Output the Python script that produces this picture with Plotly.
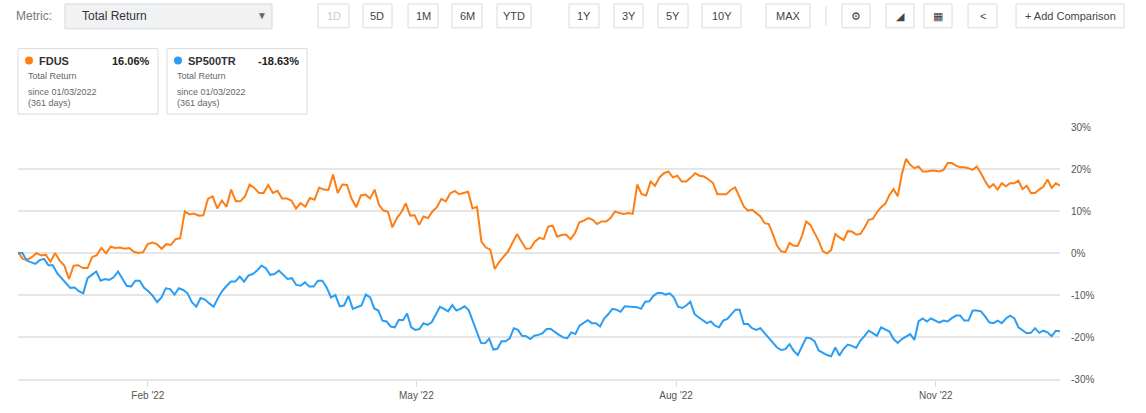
import plotly.graph_objects as go
import pandas as pd

fdus_a = [0.2,-1.4,-1.6,-1.0,0,-0.6,-0.4,-2.1,0,-1.8,-3.0,-6.2,-3.0,-2.9,-3.6,-3.6,-1.0,-0.5,1.2,-0.1,1.5,1.2,1.3,1.0,1.2,0.3,0,0.2,2.1,2.5,2.1,1.0,2.1,1.9,3.3,3.5,9.9,9.2,9.4,8.9,9.0,12.9,13.5,10.6,12.5,11.0,15.1,12.3,12.3,13.5,16.3,15.5,14.3,14.3,16.2,14.3,14.8,13.0,13.0,12.5,10.6,11.9,11.0,13.1,12.7,15.6,15.1,15.0,18.7,14.3,16.3,16.2,12.9,10.9,13.7,13.9]
fdus_b = [13.0,15.1,11.4,10.1,9.8,6.1,8.3,9.7,11.8,8.9,9.0,6.7,8.7,8.3,9.9,10.9,12.9,12.3,14.2,14.8,14.0,14.3,14.6,10.6,11.0,2.7,1.3,0.8,-3.8,-2.1,-0.8,0.4,2.5,4.5,2.7,1.0,1.1,2.7,3.6,3.3,6.3,6.5,3.9,4.3,4.4,3.3,4.7,7.3,7.7,8.3,7.9,6.9,7.5,7.5,8.3,9.9,9.5,9.3,9.5,9.3,16.3,14.0,13.7,17.0,16.0,18.0,19.0,19.4,18.0,18.4,17.0,17.0,17.9,19.0,18.4,18.2,17.5,16.7,14.0,14.0,14.0,15.0,15.6]
fdus_c = [13.3,11.1,10.1,10.3,9.5,8.7,7.1,6.9,4.5,1.7,0.4,0.2,2.4,1.7,1.7,4.1,7.5,6.7,4.8,2.9,0.4,-0.1,0.7,4.5,3.7,3.1,5.2,5.1,4.4,4.5,6.0,7.9,8.1,9.7,10.9,11.7,13.8,15.2,13.5,18.8,22.4,21.0,20.2,20.6,19.4,19.4,19.6,19.6,19.4,19.8,21.4,21.4,20.8,20.4,20.4,20.2,19.8,20.6,19.0,17.1,15.6,16.4,15.1,16.6,15.9,16.6,16.6,17.2,15.2,16.0,14.3,14.3,15.1,15.8,17.5,15.5,16.6,16.06]
sp_a = [0,0,-1.8,-2.2,-2.6,-1.7,-1.4,-2.9,-2.9,-4.8,-6.0,-7.0,-8.3,-8.2,-9.1,-9.6,-6.0,-5.2,-4.4,-6.6,-6.2,-6.4,-5.8,-4.4,-6.0,-7.8,-8.0,-6.6,-6.6,-8.3,-9.1,-10.2,-11.7,-10.6,-8.4,-8.6,-9.9,-8.4,-8.8,-9.6,-11.7,-12.8,-10.7,-11.1,-12.0,-12.8,-10.7,-9.0,-7.8,-6.8,-6.8,-5.6,-6.8,-5.4,-5.0,-4.2,-3.0,-3.6,-5.2,-5.0,-4.2,-5.2,-6.2,-6.0,-7.6,-7.8,-7.0,-8.0,-8.0,-6.6,-6.6,-8.2,-10.6,-10.0,-12.7,-12.5,-10.2,-13.3,-12.9,-12.5,-9.9]
sp_b = [-10.6,-13.2,-13.7,-16.1,-16.3,-17.5,-17.7,-15.9,-16.0,-14.4,-17.7,-18.3,-18.1,-16.7,-17.1,-16.5,-14.7,-12.8,-13.3,-13.9,-12.4,-13.7,-13.3,-12.7,-13.6,-16.3,-18.9,-21.4,-21.5,-20.4,-23.0,-22.8,-21.0,-21.0,-20.3,-17.9,-18.3,-19.7,-19.8,-20.5,-19.7,-19.5,-19.1,-18.1,-18.1,-18.9,-19.5,-20.1,-20.3,-18.9,-19.3,-17.3,-16.7,-16.0,-16.7,-16.7,-17.5,-15.6,-14.6,-13.3,-13.5,-14.0,-12.7,-12.8,-12.8,-12.9,-13.3,-11.6,-11.5,-10.2,-9.5,-9.5,-9.9,-9.6,-10.6,-12.8,-13.1,-12.5,-11.6,-14.5,-15.3,-16.1,-16.7,-16.3,-17.3,-17.7,-16.1,-15.7,-14.5,-13.5]
sp_c = [-13.5,-16.9,-16.9,-17.9,-18.3,-17.9,-19.1,-20.2,-21.3,-22.5,-23.1,-22.9,-21.7,-23.3,-24.3,-22.4,-20.2,-20.3,-21.0,-23.2,-23.8,-24.3,-24.6,-22.5,-24.4,-22.8,-21.8,-22.1,-22.6,-20.9,-19.8,-18.5,-19.1,-19.7,-17.7,-18.3,-18.7,-20.5,-21.4,-20.5,-19.8,-19.3,-20.7,-16.3,-15.6,-16.3,-15.6,-16.1,-16.6,-16.1,-16.3,-15.5,-14.9,-14.9,-16.1,-16.1,-13.7,-13.7,-13.9,-15.1,-16.5,-16.7,-16.1,-16.7,-15.6,-14.9,-15.5,-17.7,-18.5,-19.1,-19.0,-17.9,-19.0,-18.5,-18.9,-19.8,-18.5,-18.63]

seg_dates = ["2022-01-03", "2022-05-05", "2022-09-10", "2022-12-30"]
tick_vals = ["2022-02-17", "2022-05-21", "2022-08-19", "2022-11-17"]
tick_text = ["Feb '22", "May '22", "Aug '22", "Nov '22"]

def dates_for(parts):
    out = []
    for i, p in enumerate(parts):
        d = pd.date_range(seg_dates[i], seg_dates[i + 1], periods=len(p) + (1 if i < 2 else 0))
        out += list(d[:len(p)])
    return out

fdus = fdus_a + fdus_b + fdus_c
sp = sp_a + sp_b + sp_c
fx = dates_for([fdus_a, fdus_b, fdus_c])
sx = dates_for([sp_a, sp_b, sp_c])

W, H = 1146, 413
L, R, T, B = 18, 1060, 127, 381
def px(x): return (x - L) / (R - L)
def py(y): return (B - y) / (B - T)

fig = go.Figure()
fig.add_trace(go.Scatter(x=fx, y=fdus, mode="lines", line=dict(color="#fd7e14", width=2), name="FDUS"))
fig.add_trace(go.Scatter(x=sx, y=sp, mode="lines", line=dict(color="#2a9df4", width=2), name="SP500TR"))

shapes, ann = [], []
def box(x0, y0, x1, y1, fill="white", line="#d9d9d9"):
    shapes.append(dict(type="rect", xref="paper", yref="paper", x0=px(x0), x1=px(x1), y0=py(y1), y1=py(y0),
                       fillcolor=fill, line=dict(color=line, width=1), layer="above"))
def text(x, y, s, size=11, color="#333", anchor="left", bold=False):
    ann.append(dict(xref="paper", yref="paper", x=px(x), y=py(y), text=("<b>%s</b>" % s) if bold else s,
                    showarrow=False, xanchor=anchor, yanchor="middle", font=dict(size=size, color=color, family="Arial")))

text(14, 15, "Metric:", 12, "#777")
box(65, 3, 272, 28, fill="#f1f2f4", line="#d6d8db")
text(80, 15, "Total Return", 12, "#333")
text(262, 15, "▼", 10, "#666", "center")
btns = [(318, 349, "1D"), (363, 392, "5D"), (408, 438, "1M"), (452, 482, "6M"), (497, 531, "YTD"),
        (569, 599, "1Y"), (614, 643, "3Y"), (658, 688, "5Y"), (702, 741, "10Y"), (766, 810, "MAX"),
        (842, 870, "⚙"), (886, 914, "◢"), (924, 952, "▦"), (968, 997, "<"), (1016, 1124, "+ Add Comparison")]
for x0, x1, s in btns:
    box(x0, 3, x1, 27, line="#dcdcdc")
    text((x0 + x1) / 2, 15, s, 11, "#ccc" if s == "1D" else "#444", "center")
shapes.append(dict(type="line", xref="paper", yref="paper", x0=px(826), x1=px(826), y0=py(5), y1=py(25), line=dict(color="#ddd", width=1)))

cards = [(18, 158, "#fd7e14", "FDUS", "16.06%"), (167, 307, "#2a9df4", "SP500TR", "-18.63%")]
for x0, x1, c, n, v in cards:
    box(x0, 48, x1, 114, line="#dcdcdc")
    shapes.append(dict(type="circle", xref="paper", yref="paper", x0=px(x0 + 7), x1=px(x0 + 15), y0=py(64), y1=py(56),
                       fillcolor=c, line=dict(width=0)))
    text(x0 + 19, 60, n, 11, "#333", bold=True)
    text(x1 - 6, 60, v, 11, "#222", "right", bold=True)
    text(x0 + 8, 76, "Total Return", 9, "#666")
    text(x0 + 8, 92, "since 01/03/2022", 9, "#666")
    text(x0 + 8, 103, "(361 days)", 9, "#666")

fig.update_layout(
    width=W, height=H, margin=dict(l=L, r=W - R, t=T, b=H - B),
    paper_bgcolor="white", plot_bgcolor="white", showlegend=False,
    shapes=shapes, annotations=ann,
    xaxis=dict(type="date", range=["2022-01-03", "2022-12-30"], tickvals=tick_vals, ticktext=tick_text,
               showgrid=False, ticks="outside", ticklen=6, tickcolor="#ddd", showline=True, linecolor="#e6e6e6",
               linewidth=2, tickfont=dict(size=10, color="#555", family="Arial")),
    yaxis=dict(side="right", range=[-30, 30], tickvals=[-30, -20, -10, 0, 10, 20, 30],
               ticktext=["-30%", "-20%", "-10%", "0%", "10%", "20%", "30%"], gridcolor="#e6e6e6", gridwidth=1.5,
               zeroline=False, tickfont=dict(size=10, color="#555", family="Arial"), ticklabelstandoff=10),
)
fig.write_html("out.html", config={"displayModeBar": False}, post_script="document.body.style.margin='0';")
